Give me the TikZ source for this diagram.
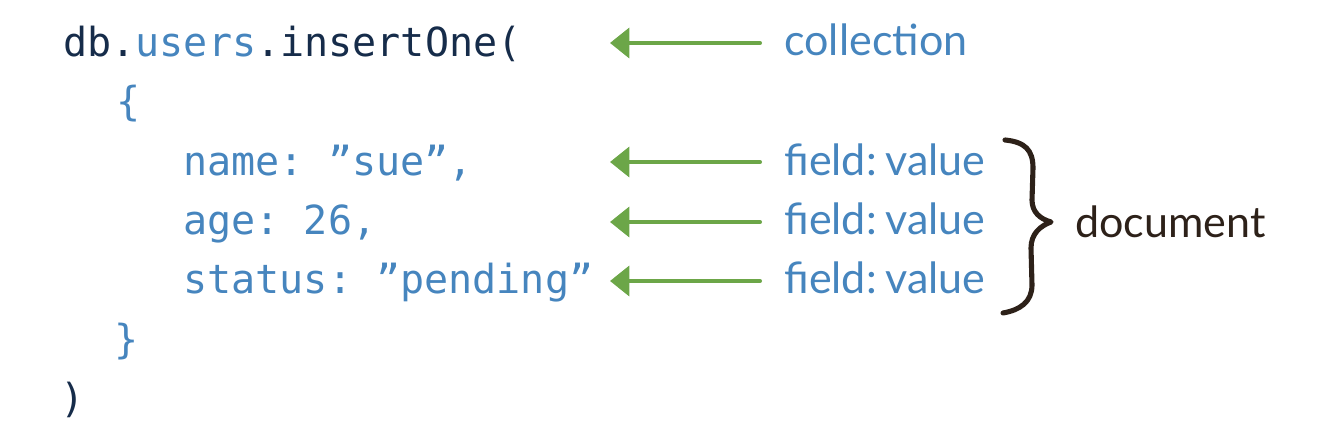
\documentclass[tikz,border=0pt]{standalone}
\usepackage{fontspec}
\setmonofont{DejaVu Sans Mono}
\setsansfont{Lato}
\usetikzlibrary{arrows.meta,positioning}
\definecolor{codenavy}{RGB}{22,44,74}
\definecolor{codeblue}{RGB}{70,133,190}
\definecolor{arrowgreen}{RGB}{108,166,72}
\definecolor{bracebrown}{RGB}{45,33,25}
\begin{document}
\begin{tikzpicture}[x=0.02cm,y=-0.02cm,>={Triangle[length=11pt,width=17pt]},line cap=round,line join=round,
  code/.style={anchor=base west,inner sep=0pt,font=\ttfamily\fontsize{22.8}{27}\selectfont},
  tag/.style={anchor=base west,inner sep=0pt,text=codeblue,font=\sffamily\fontsize{24.5}{29}\selectfont},
  pointer/.style={->,arrowgreen,line width=2.3pt}]
 \useasboundingbox (0,0) rectangle (1336,448);
 \node[code] (call) at (63,57) {\textcolor{codenavy}{db.}\textcolor{codeblue}{users}\textcolor{codenavy}{.insertOne(}};
 \node[code,text=codeblue] (open) at (116,116) {\{};
 \node[code,text=codeblue] (name) at (183,176) {name: ”sue”,};
 \node[code,text=codeblue] (age) at (183,235) {age: 26,};
 \node[code,text=codeblue] (status) at (183,294) {status: ”pending”};
 \node[code,text=codeblue] (close) at (114,354) {\}};
 \node[code,text=codenavy] (end) at (60,413) {)};
 \node[tag] (coll) at (784,56) {collection};
 \foreach \y/\n in {176/one,235/two,294/three}{
  \node[tag] (fv\n) at (784,\y) {field:\hspace{0.2em}value};
 }
 \foreach \y/\n in {43/coll,162/fvone,222/fvtwo,281/fvthree}{
  \coordinate (tip\n) at (610,\y);
  \draw[pointer] (760,\y) -- (tip\n);
 }
 \draw[bracebrown,line width=2.9pt]
  (1005,140) .. controls (1025,142) and (1033,150) .. (1033,168)
  -- (1032,200) .. controls (1032,212) and (1040,219) .. (1051,222)
  .. controls (1040,226) and (1031,234) .. (1031,248)
  -- (1032,285) .. controls (1032,302) and (1020,310) .. (1003,313);
 \node[tag,text=bracebrown,anchor=west] (doc) at (1075,222) {document};
\end{tikzpicture}
\end{document}
